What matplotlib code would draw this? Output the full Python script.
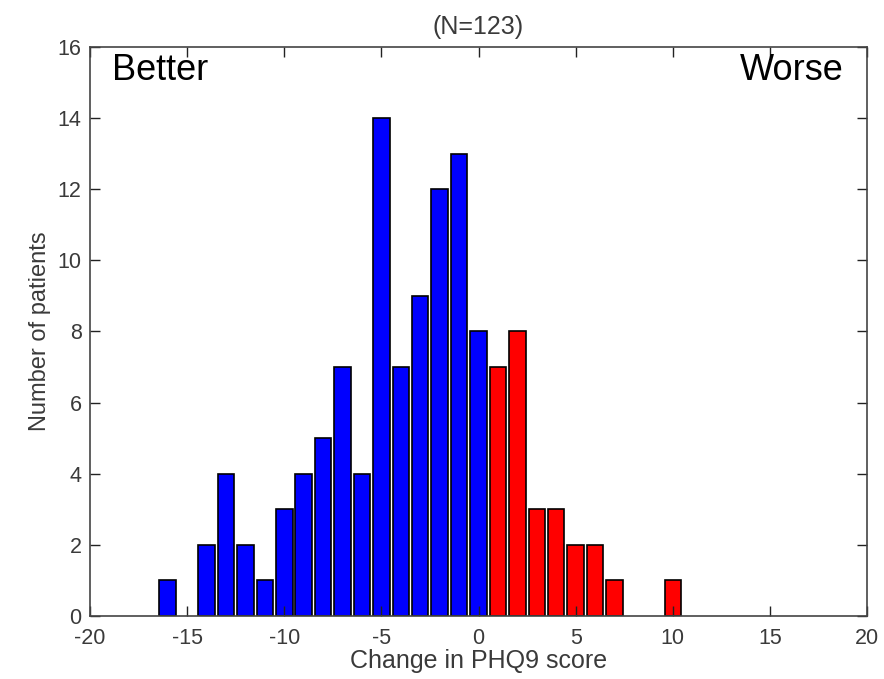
import numpy as np
import matplotlib.pyplot as plt

plt.rcParams['font.family'] = ['Liberation Sans', 'DejaVu Sans']
plt.rcParams['axes.unicode_minus'] = False

# change in PHQ9 score (integer bins) and number of patients
change_better = np.array([-16, -15, -14, -13, -12, -11, -10, -9, -8, -7, -6, -5, -4, -3, -2, -1, 0])
count_better = np.array([1, 0, 2, 4, 2, 1, 3, 4, 5, 7, 4, 14, 7, 9, 12, 13, 8])
change_worse = np.array([1, 2, 3, 4, 5, 6, 7, 8, 9, 10])
count_worse = np.array([7, 8, 3, 3, 2, 2, 1, 0, 0, 1])

fig = plt.figure(figsize=(8.84, 6.79), dpi=100)
ax = fig.add_axes([0.1018, 0.0928, 0.879, 0.838])

# empty bins draw nothing (no flat edge line)
mb = count_better > 0
mw = count_worse > 0
ax.bar(change_better[mb], count_better[mb], width=0.85, color='#0000ff',
       edgecolor='black', linewidth=1.2)
ax.bar(change_worse[mw], count_worse[mw], width=0.85, color='#ff0000',
       edgecolor='black', linewidth=1.2)

ax.set_xlim(-20, 20)
ax.set_ylim(0, 16)
ax.set_xticks(np.arange(-20, 21, 5))
ax.set_yticks(np.arange(0, 17, 2))
ax.tick_params(direction='in', top=True, right=True, length=7, width=1,
               labelsize=15.5, labelcolor='#3a3a3a', color='#222222')
ax.tick_params(axis='x', pad=9)
ax.tick_params(axis='y', pad=6)
for s in ax.spines.values():
    s.set_color('#444444')
    s.set_linewidth(1.2)

ax.set_xlabel('Change in PHQ9 score', fontsize=18, color='#3a3a3a', labelpad=0)
ax.set_ylabel('Number of patients', fontsize=17, color='#3a3a3a', labelpad=5)
ax.set_title('(N=123)', fontsize=18, color='#3a3a3a', pad=9)

ax.text(0.028, 0.99, 'Better', transform=ax.transAxes, fontsize=26, ha='left', va='top')
ax.text(0.97, 0.99, 'Worse', transform=ax.transAxes, fontsize=26, ha='right', va='top')

fig.savefig('out.png', dpi=100)
